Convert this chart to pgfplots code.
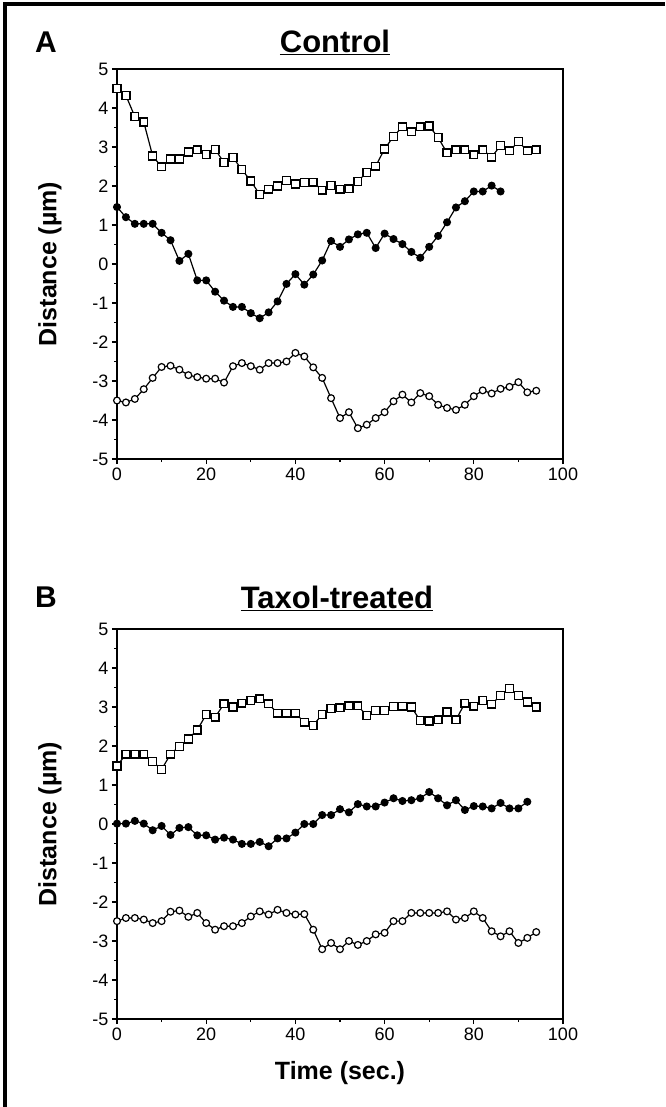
\documentclass[border=0pt]{standalone}
\usepackage{fontspec}
\setmainfont{Liberation Sans}
\usepackage{pgfplots}
\pgfplotsset{compat=1.18}

\pgfplotsset{
  panel/.style={
    scale only axis, width=446pt, height=390pt,
    xmin=0, xmax=100, ymin=-5, ymax=5,
    xtick={0,20,...,100}, ytick={-5,-4,...,5},
    minor x tick num=1, minor y tick num=1,
    tick align=outside, xtick pos=bottom, ytick pos=left,
    major tick length=5pt, minor tick length=3pt,
    axis line style={line width=1.5pt},
    tick style={black, line width=1.2pt},
    tick label style={font=\fontsize{18}{18}\selectfont},
    /pgf/number format/assume math mode=true,
    ylabel={Distance (µm)},
    ylabel style={font=\fontsize{25}{25}\selectfont\bfseries,
      at={(rel axis cs:0,0.5)}, anchor=center, yshift=67pt},
    clip=false,
  },
  sq/.style={black, line width=1.2pt, mark=square*, mark size=3.9pt,
    mark options={fill=white, line width=1.4pt}},
  fd/.style={black, line width=1.2pt, mark=*, mark size=3.4pt,
    mark options={fill=black}},
  oc/.style={black, line width=1.2pt, mark=*, mark size=3.4pt,
    mark options={fill=white, line width=1.2pt}},
}

\begin{document}
\begin{tikzpicture}
\useasboundingbox (0,0) rectangle (665pt,-1107pt);
\draw[line width=4pt] (5pt,-1107pt) -- (5pt,-4pt) -- (665pt,-4pt);

% A: control
\begin{axis}[panel, at={(117pt,-459pt)}, anchor=south west]
\addplot[sq] coordinates {
(0,4.50) (2,4.32) (4,3.78) (6,3.64) (8,2.77) (10,2.49) (12,2.69) (14,2.69)
(16,2.87) (18,2.93) (20,2.81) (22,2.94) (24,2.60) (26,2.73) (28,2.42) (30,2.13)
(32,1.78) (34,1.92) (36,2.00) (38,2.14) (40,2.05) (42,2.09) (44,2.10) (46,1.89)
(48,2.01) (50,1.92) (52,1.93) (54,2.12) (56,2.35) (58,2.51) (60,2.95) (62,3.27)
(64,3.52) (66,3.39) (68,3.52) (70,3.54) (72,3.24) (74,2.85) (76,2.93) (78,2.93)
(80,2.80) (82,2.93) (84,2.74) (86,3.04) (88,2.90) (90,3.14) (92,2.90) (94,2.93)
};
\addplot[fd] coordinates {
(0,1.46) (2,1.20) (4,1.03) (6,1.03) (8,1.03) (10,0.80) (12,0.61) (14,0.08)
(16,0.26) (18,-0.42) (20,-0.42) (22,-0.71) (24,-0.94) (26,-1.10) (28,-1.10) (30,-1.26)
(32,-1.39) (34,-1.24) (36,-0.96) (38,-0.51) (40,-0.26) (42,-0.53) (44,-0.27) (46,0.09)
(48,0.59) (50,0.44) (52,0.63) (54,0.76) (56,0.80) (58,0.41) (60,0.78) (62,0.64)
(64,0.51) (66,0.31) (68,0.16) (70,0.44) (72,0.72) (74,1.07) (76,1.45) (78,1.61)
(80,1.86) (82,1.86) (84,2.01) (86,1.86)
};
\addplot[oc] coordinates {
(0,-3.50) (2,-3.55) (4,-3.46) (6,-3.21) (8,-2.92) (10,-2.64) (12,-2.61) (14,-2.71)
(16,-2.85) (18,-2.90) (20,-2.94) (22,-2.94) (24,-3.04) (26,-2.62) (28,-2.54) (30,-2.62)
(32,-2.71) (34,-2.54) (36,-2.54) (38,-2.50) (40,-2.28) (42,-2.37) (44,-2.65) (46,-2.92)
(48,-3.44) (50,-3.95) (52,-3.80) (54,-4.21) (56,-4.12) (58,-3.95) (60,-3.80) (62,-3.52)
(64,-3.35) (66,-3.55) (68,-3.31) (70,-3.39) (72,-3.61) (74,-3.69) (76,-3.74) (78,-3.61)
(80,-3.39) (82,-3.24) (84,-3.32) (86,-3.20) (88,-3.15) (90,-3.03) (92,-3.29) (94,-3.25)
};
\end{axis}

% B: taxol-treated
\begin{axis}[panel, at={(117pt,-1019pt)}, anchor=south west,
  xlabel={Time (sec.)},
  xlabel style={font=\fontsize{25}{25}\selectfont\bfseries,
    at={(rel axis cs:0.5,0)}, anchor=center, yshift=-54pt}]
\addplot[sq] coordinates {
(0,1.49) (2,1.79) (4,1.79) (6,1.79) (8,1.60) (10,1.40) (12,1.79) (14,1.99)
(16,2.18) (18,2.41) (20,2.81) (22,2.74) (24,3.08) (26,3.00) (28,3.10) (30,3.17)
(32,3.21) (34,3.08) (36,2.84) (38,2.84) (40,2.84) (42,2.61) (44,2.53) (46,2.81)
(48,2.96) (50,2.98) (52,3.03) (54,3.03) (56,2.78) (58,2.91) (60,2.91) (62,3.01)
(64,3.02) (66,3.00) (68,2.65) (70,2.64) (72,2.67) (74,2.87) (76,2.67) (78,3.10)
(80,3.02) (82,3.17) (84,3.07) (86,3.30) (88,3.47) (90,3.30) (92,3.13) (94,3.00)
};
\addplot[fd] coordinates {
(0,0.01) (2,0.01) (4,0.08) (6,0.01) (8,-0.16) (10,-0.05) (12,-0.28) (14,-0.10)
(16,-0.08) (18,-0.29) (20,-0.29) (22,-0.40) (24,-0.35) (26,-0.40) (28,-0.51) (30,-0.51)
(32,-0.46) (34,-0.57) (36,-0.37) (38,-0.37) (40,-0.22) (42,0.00) (44,0.00) (46,0.23)
(48,0.23) (50,0.38) (52,0.30) (54,0.51) (56,0.45) (58,0.45) (60,0.55) (62,0.66)
(64,0.59) (66,0.61) (68,0.66) (70,0.82) (72,0.66) (74,0.48) (76,0.61) (78,0.36)
(80,0.46) (82,0.45) (84,0.40) (86,0.54) (88,0.40) (90,0.40) (92,0.57)
};
\addplot[oc] coordinates {
(0,-2.49) (2,-2.41) (4,-2.41) (6,-2.45) (8,-2.54) (10,-2.49) (12,-2.25) (14,-2.22)
(16,-2.38) (18,-2.28) (20,-2.54) (22,-2.71) (24,-2.62) (26,-2.62) (28,-2.54) (30,-2.37)
(32,-2.24) (34,-2.32) (36,-2.20) (38,-2.28) (40,-2.32) (42,-2.31) (44,-2.71) (46,-3.21)
(48,-3.05) (50,-3.21) (52,-3.00) (54,-3.10) (56,-3.00) (58,-2.83) (60,-2.79) (62,-2.49)
(64,-2.49) (66,-2.28) (68,-2.28) (70,-2.28) (72,-2.28) (74,-2.24) (76,-2.45) (78,-2.41)
(80,-2.24) (82,-2.41) (84,-2.75) (86,-2.88) (88,-2.75) (90,-3.05) (92,-2.92) (94,-2.77)
};
\end{axis}

\node at (46pt,-42pt) {\fontsize{30}{30}\selectfont\bfseries A};
\node at (335pt,-42pt) {\fontsize{31}{31}\selectfont\bfseries\underline{Control}};
\node at (46pt,-597pt) {\fontsize{30}{30}\selectfont\bfseries B};
\node at (337pt,-598pt) {\fontsize{31}{31}\selectfont\bfseries\underline{Taxol-treated}};
\end{tikzpicture}
\end{document}
